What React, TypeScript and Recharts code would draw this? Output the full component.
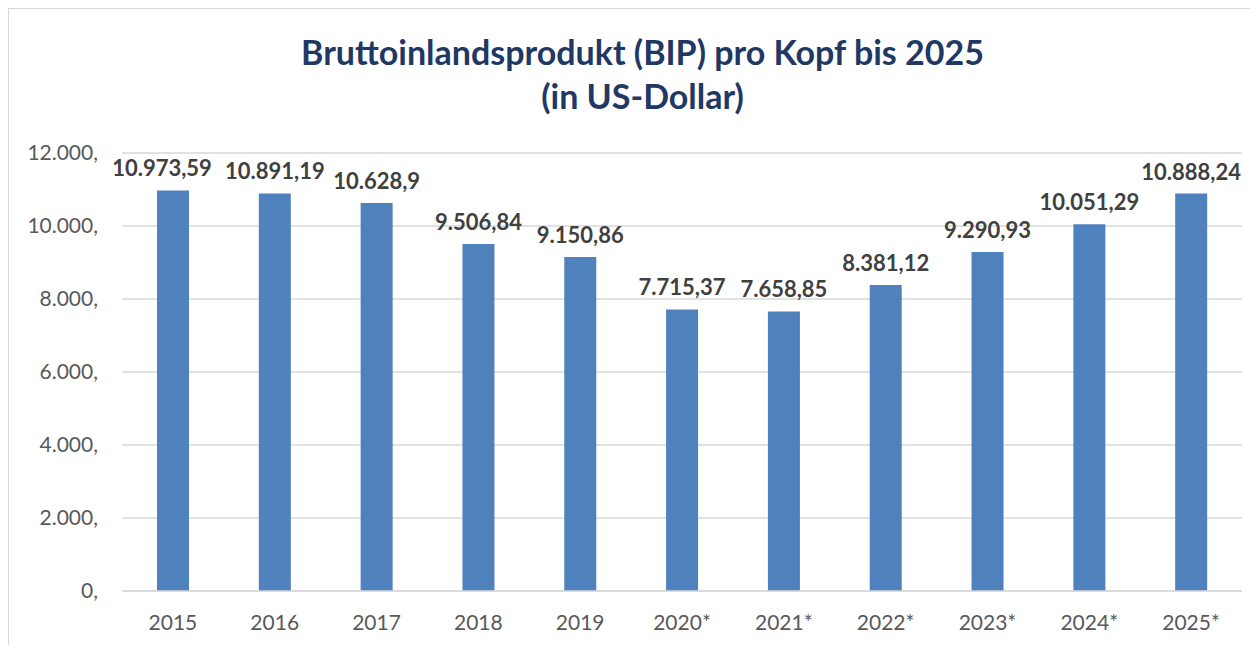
import { BarChart, Bar, XAxis, YAxis, CartesianGrid, LabelList } from "recharts";

const years = ["2015", "2016", "2017", "2018", "2019", "2020*", "2021*", "2022*", "2023*", "2024*", "2025*"];
const gdpPerCapita = [10973.59, 10891.19, 10628.9, 9506.84, 9150.86, 7715.37, 7658.85, 8381.12, 9290.93, 10051.29, 10888.24];
const yTicks = [0, 2000, 4000, 6000, 8000, 10000, 12000];

const data = years.map((year, i) => ({ year, value: gdpPerCapita[i] }));

// German style: thousands with ".", decimals with ","
const groupThousands = (n: number) =>
  String(n).replace(/\B(?=(\d{3})+(?!\d))/g, ".");

const formatValue = (v: number) => {
  const [int, dec] = String(v).split(".");
  return groupThousands(Number(int)) + (dec ? "," + dec : "");
};

const formatTick = (v: number) => groupThousands(v) + ",";

const FONT = "Lato, 'Open Sans', sans-serif";

// first label sits a little left of its bar in the original (avoids overlap)
const ValueLabel = (props: any) => {
  const { x, y, width, value, index } = props;
  const shift = index === 0 ? -11 : 0;
  return (
    <text
      x={Number(x) + Number(width) / 2 + shift}
      y={Number(y) - 14}
      textAnchor="middle"
      fontSize={22}
      fontWeight={700}
      fill="#404040"
      fontFamily={FONT}
    >
      {formatValue(Number(value))}
    </text>
  );
};

export default function App() {
  return (
    <div
      style={{
        position: "relative",
        width: 1249,
        height: 636,
        borderTop: "1px solid #d9d9d9",
        borderLeft: "1px solid #d9d9d9",
        background: "#fff",
      }}
    >
      <div
        style={{
          position: "absolute",
          top: 21,
          left: 9,
          width: 1249,
          textAlign: "center",
          fontFamily: FONT,
          fontWeight: 700,
          fontSize: 34,
          lineHeight: "44px",
          color: "#1f3864",
        }}
      >
        Bruttoinlandsprodukt (BIP) pro Kopf bis 2025
        <br />
        (in US-Dollar)
      </div>
      <BarChart
        width={1249}
        height={636}
        data={data}
        margin={{ top: 144, right: 16, bottom: 0, left: 0 }}
      >
        <CartesianGrid stroke="#d9d9d9" strokeWidth={1.5} vertical={false} />
        <XAxis
          dataKey="year"
          height={54}
          axisLine={{ stroke: "#d9d9d9", strokeWidth: 1.5 }}
          tickLine={false}
          tickMargin={18}
          tick={{ fontSize: 21, fill: "#595959", fontFamily: FONT }}
        />
        <YAxis
          width={113}
          domain={[0, 12000]}
          ticks={yTicks}
          tickFormatter={formatTick}
          axisLine={false}
          tickLine={false}
          tickSize={0}
          tickMargin={24}
          tick={{ fontSize: 21, fill: "#595959", fontFamily: FONT }}
        />
        <Bar dataKey="value" fill="#4f81bd" barSize={32} isAnimationActive={false}>
          <LabelList dataKey="value" content={ValueLabel} />
        </Bar>
      </BarChart>
    </div>
  );
}
